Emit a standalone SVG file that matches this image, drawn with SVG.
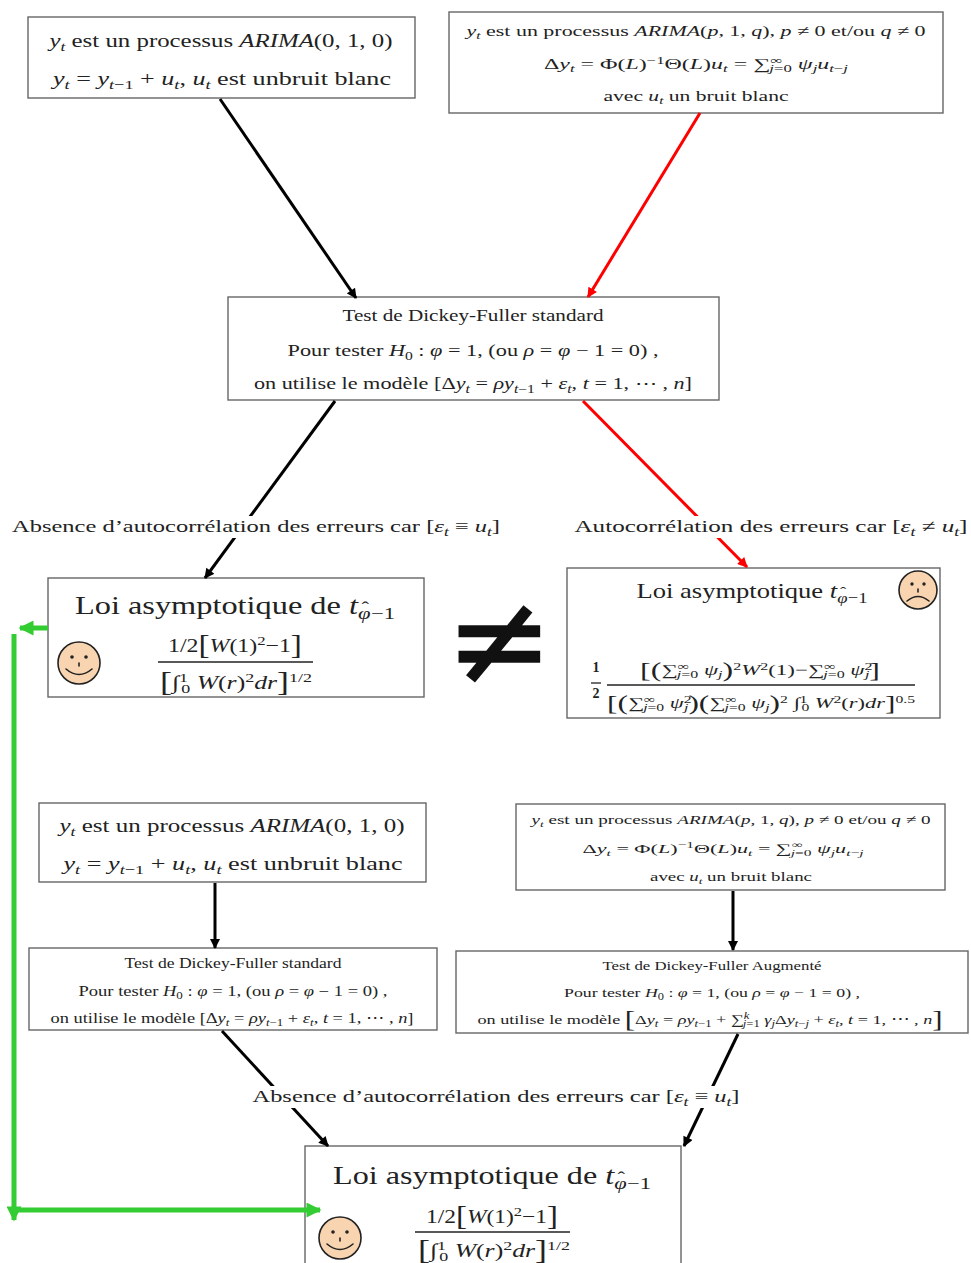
<svg xmlns="http://www.w3.org/2000/svg" width="971" height="1263" viewBox="0 0 971 1263">
<defs>
<style>
text{font-family:"Liberation Serif","DejaVu Serif",serif;fill:#222;}
.c{text-anchor:middle;}
.i{font-style:italic;}
.sb{font-size:70%;baseline-shift:-0.3em;}
.sp{font-size:70%;baseline-shift:0.5em;}
.big{font-size:140%;baseline-shift:-0.08em;}
.hat{baseline-shift:0.35em;}
.box{fill:#fff;stroke:#666;stroke-width:1.4;}
.lblbg{fill:#fff;stroke:none;}
.blk{stroke:#000;stroke-width:3;fill:none;}
.red{stroke:#f00;stroke-width:3;fill:none;}
.grn{stroke:#33cc33;stroke-width:5;fill:none;}
.face{fill:#f9d4b0;stroke:#222;stroke-width:1.6;}
.feat{fill:none;stroke:#222;stroke-width:1.6;stroke-linecap:round;}
.bar{stroke:#222;stroke-width:1.3;}
</style>
<marker id="mb" viewBox="0 0 10 10" refX="9" refY="5" markerWidth="11" markerHeight="10" markerUnits="userSpaceOnUse" orient="auto"><path d="M0,0 L10,5 L0,10 z" fill="#000"/></marker>
<marker id="mr" viewBox="0 0 10 10" refX="9" refY="5" markerWidth="11" markerHeight="10" markerUnits="userSpaceOnUse" orient="auto"><path d="M0,0 L10,5 L0,10 z" fill="#f00"/></marker>
<marker id="mg" viewBox="0 0 10 10" refX="9" refY="5" markerWidth="16" markerHeight="15" markerUnits="userSpaceOnUse" orient="auto"><path d="M0,0 L10,5 L0,10 z" fill="#33cc33"/></marker>
</defs>
<rect width="971" height="1263" fill="#fff"/>

<g id="n1">
<rect class="box" x="28" y="17" width="387" height="81"/>
<text class="c" x="221" y="47" font-size="19" textLength="343" lengthAdjust="spacingAndGlyphs"><tspan class="i">y</tspan><tspan class="sb i">t</tspan> est un processus <tspan class="i">ARIMA</tspan>(0, 1, 0)</text>
<text class="c" x="222" y="85" font-size="19" textLength="338" lengthAdjust="spacingAndGlyphs"><tspan class="i">y</tspan><tspan class="sb i">t</tspan> = <tspan class="i">y</tspan><tspan class="sb"><tspan class="i">t</tspan>−1</tspan> + <tspan class="i">u</tspan><tspan class="sb i">t</tspan>, <tspan class="i">u</tspan><tspan class="sb i">t</tspan> est unbruit blanc</text>
</g>

<g id="n2">
<rect class="box" x="449" y="12" width="494" height="101"/>
<text class="c" x="696" y="36" font-size="15" textLength="459" lengthAdjust="spacingAndGlyphs"><tspan class="i">y</tspan><tspan class="sb i">t</tspan> est un processus <tspan class="i">ARIMA</tspan>(<tspan class="i">p</tspan>, 1, <tspan class="i">q</tspan>),  <tspan class="i">p</tspan> ≠ 0 et/ou <tspan class="i">q</tspan> ≠ 0</text>
<text class="c" x="696" y="69" font-size="15" textLength="304" lengthAdjust="spacingAndGlyphs">Δ<tspan class="i">y</tspan><tspan class="sb i">t</tspan> = Φ(<tspan class="i">L</tspan>)<tspan class="sp">−1</tspan>Θ(<tspan class="i">L</tspan>)<tspan class="i">u</tspan><tspan class="sb i">t</tspan> = ∑<tspan class="sp">∞</tspan><tspan class="sb" dx="-8"><tspan class="i">j</tspan>=0</tspan> <tspan class="i">ψ</tspan><tspan class="sb i">j</tspan><tspan class="i">u</tspan><tspan class="sb"><tspan class="i">t</tspan>−<tspan class="i">j</tspan></tspan></text>
<text class="c" x="696" y="101" font-size="15" textLength="185" lengthAdjust="spacingAndGlyphs">avec <tspan class="i">u</tspan><tspan class="sb i">t</tspan> un bruit blanc</text>
</g>

<g id="n3">
<rect class="box" x="228" y="297" width="491" height="103"/>
<text class="c" x="473" y="321" font-size="17" textLength="261" lengthAdjust="spacingAndGlyphs">Test de Dickey-Fuller standard</text>
<text class="c" x="473" y="356" font-size="17" textLength="371" lengthAdjust="spacingAndGlyphs">Pour tester <tspan class="i">H</tspan><tspan class="sb">0</tspan> : <tspan class="i">φ</tspan> = 1,  (ou <tspan class="i">ρ</tspan> = <tspan class="i">φ</tspan> − 1 = 0) ,</text>
<text class="c" x="473" y="389" font-size="17" textLength="438" lengthAdjust="spacingAndGlyphs">on utilise le modèle  [Δ<tspan class="i">y</tspan><tspan class="sb i">t</tspan> = <tspan class="i">ρy</tspan><tspan class="sb"><tspan class="i">t</tspan>−1</tspan> + <tspan class="i">ε</tspan><tspan class="sb i">t</tspan>, <tspan class="i">t</tspan> = 1, ⋯ , <tspan class="i">n</tspan>]</text>
</g>

<g id="n4">
<rect class="box" x="48" y="578" width="376" height="119"/>
<text class="c" x="235" y="614" font-size="25" textLength="320" lengthAdjust="spacingAndGlyphs">Loi asymptotique de <tspan class="i">t</tspan><tspan class="sb"><tspan class="i">φ</tspan><tspan class="hat" dx="-7">ˆ</tspan><tspan dx="1.5">−1</tspan></tspan></text>
<text class="c" x="235" y="652" font-size="19" textLength="134" lengthAdjust="spacingAndGlyphs">1/2<tspan class="big">[</tspan><tspan class="i">W</tspan>(1)<tspan class="sp">2</tspan>−1<tspan class="big">]</tspan></text>
<line class="bar" x1="158" y1="662" x2="313" y2="662"/>
<text class="c" x="236" y="689" font-size="19" textLength="152" lengthAdjust="spacingAndGlyphs"><tspan class="big">[</tspan>∫<tspan class="sp">1</tspan><tspan class="sb" dx="-5">0</tspan> <tspan class="i">W</tspan>(<tspan class="i">r</tspan>)<tspan class="sp">2</tspan><tspan class="i">dr</tspan><tspan class="big">]</tspan><tspan class="sp">1/2</tspan></text>
<circle class="face" cx="79" cy="663" r="21"/>
<circle cx="72" cy="657" r="1.8" fill="#222"/><circle cx="86" cy="657" r="1.8" fill="#222"/>
<path class="feat" d="M79,663 v3"/>
<path class="feat" d="M66,669 Q79,680 92,669"/>
</g>

<g id="neq">
<text class="c" x="499" y="684" font-size="128" style="font-family:'DejaVu Sans',sans-serif;fill:#111;stroke:#111;stroke-width:1.5">≠</text>
</g>

<g id="n5">
<rect class="box" x="567" y="568" width="373" height="150"/>
<text class="c" x="752" y="598" font-size="22" textLength="231" lengthAdjust="spacingAndGlyphs">Loi asymptotique <tspan class="i">t</tspan><tspan class="sb"><tspan class="i">φ</tspan><tspan class="hat" dx="-6.2">ˆ</tspan><tspan dx="1.3">−1</tspan></tspan></text>
<circle class="face" cx="918" cy="590" r="19"/>
<circle cx="912" cy="584" r="1.7" fill="#222"/><circle cx="924" cy="584" r="1.7" fill="#222"/>
<path class="feat" d="M918,589 v3"/>
<path class="feat" d="M907,601 Q918,592 929,601"/>
<text class="c" x="596" y="672" font-size="14" font-weight="bold">1</text>
<line class="bar" x1="591" y1="683" x2="601" y2="683"/>
<text class="c" x="596" y="698" font-size="14" font-weight="bold">2</text>
<line class="bar" x1="607" y1="685" x2="915" y2="685"/>
<text class="c" x="760" y="675" font-size="15" textLength="240" lengthAdjust="spacingAndGlyphs"><tspan class="big">[(</tspan>∑<tspan class="sp">∞</tspan><tspan class="sb" dx="-8"><tspan class="i">j</tspan>=0</tspan> <tspan class="i">ψ</tspan><tspan class="sb i">j</tspan><tspan class="big">)</tspan><tspan class="sp">2</tspan><tspan class="i">W</tspan><tspan class="sp">2</tspan>(1)−∑<tspan class="sp">∞</tspan><tspan class="sb" dx="-8"><tspan class="i">j</tspan>=0</tspan> <tspan class="i">ψ</tspan><tspan class="sp">2</tspan><tspan class="sb i" dx="-5">j</tspan><tspan class="big">]</tspan></text>
<text class="c" x="761" y="708" font-size="15" textLength="308" lengthAdjust="spacingAndGlyphs"><tspan class="big">[(</tspan>∑<tspan class="sp">∞</tspan><tspan class="sb" dx="-8"><tspan class="i">j</tspan>=0</tspan> <tspan class="i">ψ</tspan><tspan class="sp">2</tspan><tspan class="sb i" dx="-5">j</tspan><tspan class="big">)(</tspan>∑<tspan class="sp">∞</tspan><tspan class="sb" dx="-8"><tspan class="i">j</tspan>=0</tspan> <tspan class="i">ψ</tspan><tspan class="sb i">j</tspan><tspan class="big">)</tspan><tspan class="sp">2</tspan> ∫<tspan class="sp">1</tspan><tspan class="sb" dx="-4">0</tspan> <tspan class="i">W</tspan><tspan class="sp">2</tspan>(<tspan class="i">r</tspan>)<tspan class="i">dr</tspan><tspan class="big">]</tspan><tspan class="sp">0.5</tspan></text>
</g>

<g id="n6">
<rect class="box" x="39" y="803" width="387" height="79"/>
<text class="c" x="232" y="832" font-size="19" textLength="345" lengthAdjust="spacingAndGlyphs"><tspan class="i">y</tspan><tspan class="sb i">t</tspan> est un processus <tspan class="i">ARIMA</tspan>(0, 1, 0)</text>
<text class="c" x="233" y="870" font-size="19" textLength="339" lengthAdjust="spacingAndGlyphs"><tspan class="i">y</tspan><tspan class="sb i">t</tspan> = <tspan class="i">y</tspan><tspan class="sb"><tspan class="i">t</tspan>−1</tspan> + <tspan class="i">u</tspan><tspan class="sb i">t</tspan>, <tspan class="i">u</tspan><tspan class="sb i">t</tspan> est unbruit blanc</text>
</g>

<g id="n7">
<rect class="box" x="516" y="804" width="429" height="86"/>
<text class="c" x="731" y="824" font-size="13" textLength="399" lengthAdjust="spacingAndGlyphs"><tspan class="i">y</tspan><tspan class="sb i">t</tspan> est un processus <tspan class="i">ARIMA</tspan>(<tspan class="i">p</tspan>, 1, <tspan class="i">q</tspan>),  <tspan class="i">p</tspan> ≠ 0 et/ou <tspan class="i">q</tspan> ≠ 0</text>
<text class="c" x="723" y="853" font-size="13" textLength="281" lengthAdjust="spacingAndGlyphs">Δ<tspan class="i">y</tspan><tspan class="sb i">t</tspan> = Φ(<tspan class="i">L</tspan>)<tspan class="sp">−1</tspan>Θ(<tspan class="i">L</tspan>)<tspan class="i">u</tspan><tspan class="sb i">t</tspan> = ∑<tspan class="sp">∞</tspan><tspan class="sb" dx="-7"><tspan class="i">j</tspan>=0</tspan> <tspan class="i">ψ</tspan><tspan class="sb i">j</tspan><tspan class="i">u</tspan><tspan class="sb"><tspan class="i">t</tspan>−<tspan class="i">j</tspan></tspan></text>
<text class="c" x="731" y="881" font-size="13" textLength="162" lengthAdjust="spacingAndGlyphs">avec <tspan class="i">u</tspan><tspan class="sb i">t</tspan> un bruit blanc</text>
</g>

<g id="n8">
<rect class="box" x="29" y="948" width="408" height="82"/>
<text class="c" x="233" y="968" font-size="14" textLength="217" lengthAdjust="spacingAndGlyphs">Test de Dickey-Fuller standard</text>
<text class="c" x="233" y="996" font-size="14" textLength="309" lengthAdjust="spacingAndGlyphs">Pour tester <tspan class="i">H</tspan><tspan class="sb">0</tspan> : <tspan class="i">φ</tspan> = 1,  (ou <tspan class="i">ρ</tspan> = <tspan class="i">φ</tspan> − 1 = 0) ,</text>
<text class="c" x="232" y="1023" font-size="14" textLength="363" lengthAdjust="spacingAndGlyphs">on utilise le modèle  [Δ<tspan class="i">y</tspan><tspan class="sb i">t</tspan> = <tspan class="i">ρy</tspan><tspan class="sb"><tspan class="i">t</tspan>−1</tspan> + <tspan class="i">ε</tspan><tspan class="sb i">t</tspan>, <tspan class="i">t</tspan> = 1, ⋯ , <tspan class="i">n</tspan>]</text>
</g>

<g id="n9">
<rect class="box" x="456" y="951" width="512" height="82"/>
<text class="c" x="712" y="970" font-size="13.5" textLength="219" lengthAdjust="spacingAndGlyphs">Test de Dickey-Fuller Augmenté</text>
<text class="c" x="712" y="997" font-size="13.5" textLength="296" lengthAdjust="spacingAndGlyphs">Pour tester <tspan class="i">H</tspan><tspan class="sb">0</tspan> : <tspan class="i">φ</tspan> = 1,  (ou <tspan class="i">ρ</tspan> = <tspan class="i">φ</tspan> − 1 = 0) ,</text>
<text class="c" x="710" y="1024" font-size="13.5" textLength="465" lengthAdjust="spacingAndGlyphs">on utilise le modèle  <tspan style="font-size:170%;baseline-shift:-0.12em">[</tspan>Δ<tspan class="i">y</tspan><tspan class="sb i">t</tspan> = <tspan class="i">ρy</tspan><tspan class="sb"><tspan class="i">t</tspan>−1</tspan> + ∑<tspan class="sp i">k</tspan><tspan class="sb" dx="-5"><tspan class="i">j</tspan>=1</tspan> <tspan class="i">γ</tspan><tspan class="sb i">j</tspan>Δ<tspan class="i">y</tspan><tspan class="sb"><tspan class="i">t</tspan>−<tspan class="i">j</tspan></tspan> + <tspan class="i">ε</tspan><tspan class="sb i">t</tspan>, <tspan class="i">t</tspan> = 1, ⋯ , <tspan class="i">n</tspan><tspan style="font-size:170%;baseline-shift:-0.12em">]</tspan></text>
</g>

<g id="n10">
<rect class="box" x="305" y="1146" width="376" height="130"/>
<text class="c" x="492" y="1184" font-size="25" textLength="318" lengthAdjust="spacingAndGlyphs">Loi asymptotique de <tspan class="i">t</tspan><tspan class="sb"><tspan class="i">φ</tspan><tspan class="hat" dx="-7">ˆ</tspan><tspan dx="1.5">−1</tspan></tspan></text>
<text class="c" x="492" y="1223" font-size="19" textLength="132" lengthAdjust="spacingAndGlyphs">1/2<tspan class="big">[</tspan><tspan class="i">W</tspan>(1)<tspan class="sp">2</tspan>−1<tspan class="big">]</tspan></text>
<line class="bar" x1="415" y1="1232" x2="570" y2="1232"/>
<text class="c" x="494" y="1257" font-size="19" textLength="152" lengthAdjust="spacingAndGlyphs"><tspan class="big">[</tspan>∫<tspan class="sp">1</tspan><tspan class="sb" dx="-5">0</tspan> <tspan class="i">W</tspan>(<tspan class="i">r</tspan>)<tspan class="sp">2</tspan><tspan class="i">dr</tspan><tspan class="big">]</tspan><tspan class="sp">1/2</tspan></text>
<circle class="face" cx="340" cy="1238" r="21"/>
<circle cx="333" cy="1232" r="1.8" fill="#222"/><circle cx="347" cy="1232" r="1.8" fill="#222"/>
<path class="feat" d="M340,1238 v3"/>
<path class="feat" d="M327,1244 Q340,1255 353,1244"/>
</g>

<g id="connectors">
<line class="blk" x1="220" y1="99" x2="356" y2="298" marker-end="url(#mb)"/>
<line class="red" x1="700" y1="113" x2="588" y2="297" marker-end="url(#mr)"/>
<line class="blk" x1="335" y1="401" x2="205" y2="578" marker-end="url(#mb)"/>
<line class="red" x1="583" y1="401" x2="747" y2="567" marker-end="url(#mr)"/>
<line class="blk" x1="215" y1="883" x2="215" y2="948" marker-end="url(#mb)"/>
<line class="blk" x1="733" y1="891" x2="733" y2="950" marker-end="url(#mb)"/>
<line class="blk" x1="222" y1="1031" x2="328" y2="1146" marker-end="url(#mb)"/>
<line class="blk" x1="738" y1="1034" x2="684" y2="1146" marker-end="url(#mb)"/>
<path class="grn" d="M48,628 H20" marker-end="url(#mg)"/>
<path class="grn" d="M14,634 V1220" marker-end="url(#mg)"/>
<path class="grn" d="M14,1210 H320" marker-end="url(#mg)"/>
</g>

<g id="lbl1">
<rect class="lblbg" x="10" y="516" width="492" height="22"/>
<text class="c" x="256" y="532" font-size="17" textLength="488" lengthAdjust="spacingAndGlyphs">Absence d’autocorrélation des erreurs car  [<tspan class="i">ε</tspan><tspan class="sb i">t</tspan> ≡ <tspan class="i">u</tspan><tspan class="sb i">t</tspan>]</text>
</g>

<g id="lbl2">
<rect class="lblbg" x="573" y="516" width="397" height="22"/>
<text class="c" x="771" y="532" font-size="17" textLength="393" lengthAdjust="spacingAndGlyphs">Autocorrélation des erreurs car  [<tspan class="i">ε</tspan><tspan class="sb i">t</tspan> ≠ <tspan class="i">u</tspan><tspan class="sb i">t</tspan>]</text>
</g>

<g id="lbl3">
<rect class="lblbg" x="250" y="1086" width="492" height="22"/>
<text class="c" x="496" y="1102" font-size="17" textLength="487" lengthAdjust="spacingAndGlyphs">Absence d’autocorrélation des erreurs car  [<tspan class="i">ε</tspan><tspan class="sb i">t</tspan> ≡ <tspan class="i">u</tspan><tspan class="sb i">t</tspan>]</text>
</g>
</svg>
